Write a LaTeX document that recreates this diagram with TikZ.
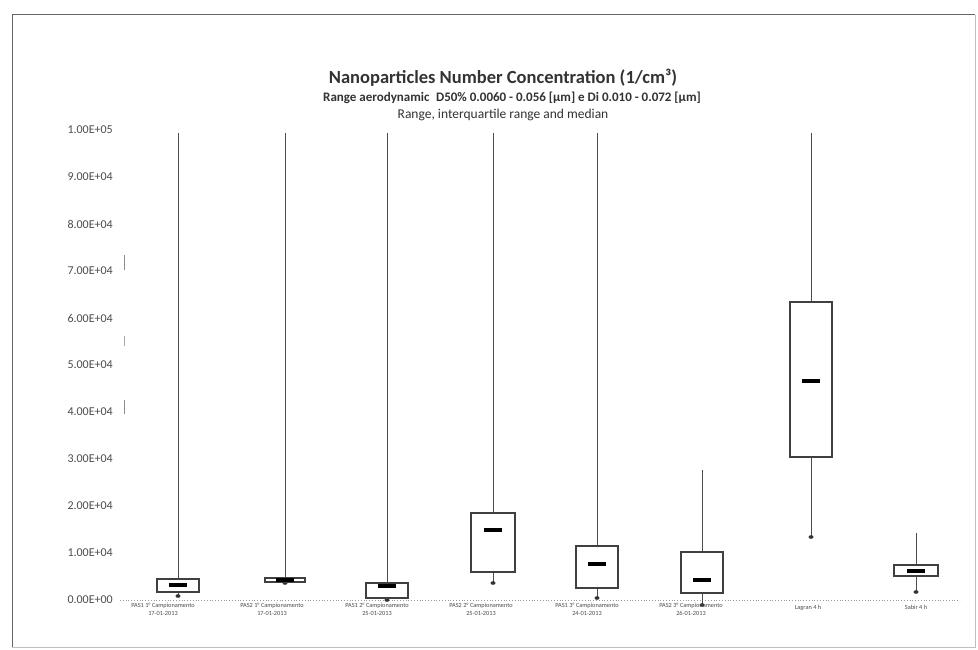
\documentclass[tikz,border=0pt]{standalone}
\usepackage{fontspec}
\setmainfont{Carlito}
\begin{document}
\begin{tikzpicture}[x=1pt,y=-1pt,
  frame/.style={draw=black!60,line width=1pt},
  whisk/.style={draw=black!70,line width=1pt},
  boxst/.style={draw=black!75,line width=1.4pt,fill=white},
  med/.style={draw=black,line width=3.5pt},
  tick/.style={anchor=east,font=\fontsize{12}{13}\selectfont,text=black!70,inner sep=0pt},
  cat/.style={anchor=north,font=\fontsize{6.3}{8}\selectfont,text=black!70,align=center,inner sep=0pt},
  ttl/.style={font=\bfseries\fontsize{18.5}{21}\selectfont,text=black!80,inner sep=0pt},
  sub/.style={font=\fontsize{13.5}{15}\selectfont,text=black!80,inner sep=0pt}]
\useasboundingbox (0,0) rectangle (978,650);
\fill[white] (0,0) rectangle (978,650);
% frame
\draw[frame] (12,647) -- (12,15) -- (975,15);
\draw[draw=black!25,line width=0.6pt] (12,647) -- (975,647) -- (975,15);
% titles
\node[ttl] (t1) at (503,78) {Nanoparticles Number Concentration (1/cm³)};
\node[sub,font=\bfseries\fontsize{13}{15}\selectfont] (t2) at (512,98) {Range aerodynamic\enspace D50\% 0.0060 - 0.056 [µm] e Di 0.010 - 0.072 [µm]};
\node[sub] (t3) at (503,115) {Range, interquartile range and median};
% y tick labels
\foreach \v [count=\i from 0] in {0.00E+00,1.00E+04,2.00E+04,3.00E+04,4.00E+04,5.00E+04,6.00E+04,7.00E+04,8.00E+04,9.00E+04,1.00E+05}
  \node[tick] (yl\i) at (113,{600-47*\i}) {\v};
% scan marks
\draw[black!45,line width=0.8pt] (124,255) -- (124,270);
\draw[black!35,line width=0.8pt] (124,336) -- (124,346);
\draw[black!45,line width=0.8pt] (124,400) -- (124,414);
% x axis (dotted)
\draw[black!40,dotted,line width=0.8pt] (120,600) -- (960,600);
% boxplots: x, whisker top, box top, median, box bottom, whisker bottom, half width
\foreach \x/\wt/\bt/\md/\bb/\wb/\hw in {
  178/133/579/585/592/596/21,
  285/133/578/580/582/583/20,
  387/133/583/586/598/600/21,
  493/133/513/530/572/583/22,
  597/133/546/564/588/598/21,
  702/470/552/580/593/605/21,
  811/133/302/381/457/537/21,
  916/533/565/571/576/592/22}{
  \draw[whisk] (\x,\wt) -- (\x,\wb);
  \fill[black!80] (\x,\wb) ellipse (2.5pt and 1.8pt);
  \draw[boxst] ({\x-\hw},\bt) rectangle ({\x+\hw},\bb);
  \draw[med] ({\x-9},\md) -- ({\x+9},\md);
}
% category labels
\node[cat] (c1) at (163,603) {PAS1 1° Campionamento\\17-01-2013};
\node[cat] (c2) at (272,603) {PAS2 1° Campionamento\\17-01-2013};
\node[cat] (c3) at (377,603) {PAS1 2° Campionamento\\25-01-2013};
\node[cat] (c4) at (481,603) {PAS2 2° Campionamento\\25-01-2013};
\node[cat] (c5) at (587,603) {PAS1 3° Campionamento\\24-01-2013};
\node[cat] (c6) at (691,603) {PAS2 3° Campionamento\\26-01-2013};
\node[cat] (c7) at (808,605) {Lagran 4 h};
\node[cat] (c8) at (916,605) {Sabir 4 h};
\end{tikzpicture}
\end{document}
